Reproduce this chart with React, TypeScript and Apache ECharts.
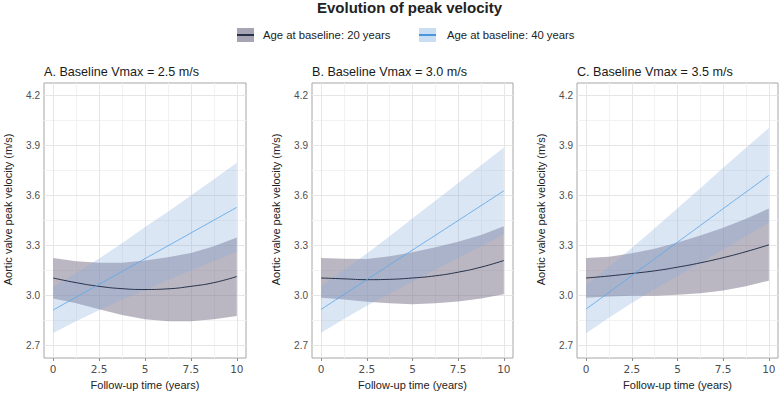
import React, { useEffect, useRef } from "react";
import * as echarts from "echarts";

// ---- data ----
const years = [0, 1.25, 2.5, 3.75, 5, 6.25, 7.5, 8.75, 10];
const xTicks = [0, 2.5, 5, 7.5, 10];
const xMinor = [1.25, 3.75, 6.25, 8.75];
const yTicks = [2.7, 3.0, 3.3, 3.6, 3.9, 4.2];
const yMinor = [2.85, 3.15, 3.45, 3.75, 4.05];

const chartTitle = "Evolution of peak velocity";
const panelTitles = [
  "A. Baseline Vmax = 2.5 m/s",
  "B. Baseline Vmax = 3.0 m/s",
  "C. Baseline Vmax = 3.5 m/s",
];
const legendLabels = ["Age at baseline: 20 years", "Age at baseline: 40 years"];
const xName = "Follow-up time (years)";
const yName = "Aortic valve peak velocity (m/s)";

// Panel A (baseline 2.5 m/s)
const a20Mean = [3.105, 3.077, 3.055, 3.041, 3.036, 3.040, 3.055, 3.077, 3.114];
const a20Upper = [3.225, 3.206, 3.196, 3.196, 3.210, 3.230, 3.255, 3.295, 3.348];
const a20Lower = [2.982, 2.953, 2.917, 2.883, 2.858, 2.846, 2.846, 2.858, 2.877];
const a40Mean = [2.913, 2.990, 3.067, 3.144, 3.221, 3.298, 3.375, 3.452, 3.529];
const a40Upper = [3.051, 3.135, 3.222, 3.314, 3.411, 3.503, 3.600, 3.697, 3.796];
const a40Lower = [2.775, 2.845, 2.912, 2.974, 3.031, 3.093, 3.150, 3.207, 3.262];

// Panel B (baseline 3.0 m/s)
const b20Mean = [3.105, 3.100, 3.095, 3.097, 3.105, 3.118, 3.140, 3.170, 3.210];
const b20Upper = [3.225, 3.221, 3.219, 3.235, 3.259, 3.289, 3.322, 3.363, 3.415];
const b20Lower = [2.986, 2.976, 2.962, 2.953, 2.948, 2.953, 2.964, 2.982, 3.008];
const b40Mean = [2.917, 3.006, 3.095, 3.184, 3.273, 3.361, 3.450, 3.539, 3.628];
const b40Upper = [3.057, 3.153, 3.252, 3.356, 3.463, 3.568, 3.675, 3.782, 3.888];
const b40Lower = [2.777, 2.859, 2.938, 3.012, 3.083, 3.154, 3.225, 3.296, 3.368];

// Panel C (baseline 3.5 m/s)
const c20Mean = [3.105, 3.117, 3.132, 3.148, 3.170, 3.196, 3.227, 3.263, 3.304];
const c20Upper = [3.225, 3.233, 3.253, 3.280, 3.318, 3.360, 3.407, 3.460, 3.522];
const c20Lower = [2.986, 2.994, 2.998, 2.998, 3.004, 3.014, 3.030, 3.055, 3.089];
const c40Mean = [2.919, 3.019, 3.120, 3.220, 3.320, 3.420, 3.521, 3.621, 3.721];
const c40Upper = [3.064, 3.172, 3.285, 3.403, 3.523, 3.644, 3.766, 3.886, 4.005];
const c40Lower = [2.774, 2.866, 2.955, 3.037, 3.117, 3.196, 3.276, 3.356, 3.437];

// ---- styling ----
const FONT = "Liberation Sans, Arial, sans-serif";
const GRAY_BAND = "rgba(118,112,134,0.5)";
const BLUE_BAND = "rgba(135,172,222,0.3)";
const GRAY_LINE = "#26324a";
const BLUE_LINE = "#62aae6";
const gridLefts = [44, 312, 577];
const gridWidths = [202, 201, 201];

const panels = [
  { m20: a20Mean, u20: a20Upper, l20: a20Lower, m40: a40Mean, u40: a40Upper, l40: a40Lower },
  { m20: b20Mean, u20: b20Upper, l20: b20Lower, m40: b40Mean, u40: b40Upper, l40: b40Lower },
  { m20: c20Mean, u20: c20Upper, l20: c20Lower, m40: c40Mean, u40: c40Upper, l40: c40Lower },
];

const pairs = (ys: number[]) => years.map((x, i) => [x, ys[i]]);

function bandSeries(i: number, lower: number[], upper: number[], fill: string) {
  return {
    type: "custom",
    coordinateSystem: "cartesian2d",
    xAxisIndex: i,
    yAxisIndex: i,
    silent: true,
    data: years.map((x, k) => [x, lower[k], upper[k]]),
    renderItem: (params: any, api: any) => {
      if (params.dataIndex !== 0) return null;
      const top = years.map((x, k) => api.coord([x, upper[k]]));
      const bottom = years.map((x, k) => api.coord([x, lower[k]])).reverse();
      return {
        type: "polygon",
        shape: { points: top.concat(bottom) },
        style: { fill, stroke: "none" },
      };
    },
  };
}

function buildOption() {
  const grid: any[] = [];
  const xAxis: any[] = [];
  const yAxis: any[] = [];
  const series: any[] = [];
  const titles: any[] = [
    {
      text: chartTitle,
      left: 317,
      top: 0,
      padding: 0,
      textStyle: { fontFamily: FONT, fontSize: 15, fontWeight: "bold", color: "#222" },
    },
  ];

  panels.forEach((p, i) => {
    grid.push({
      left: gridLefts[i],
      top: 83,
      width: gridWidths[i],
      height: 277,
      show: true,
      borderColor: "#a6a6a6",
      borderWidth: 1,
      backgroundColor: "transparent",
    });
    titles.push({
      text: panelTitles[i],
      left: gridLefts[i],
      top: 65,
      padding: 0,
      textStyle: { fontFamily: FONT, fontSize: 12.6, fontWeight: "normal", color: "#1a1a1a" },
    });
    xAxis.push({
      type: "value",
      gridIndex: i,
      min: -0.5,
      max: 10.5,
      name: xName,
      nameLocation: "middle",
      nameGap: 21,
      nameTextStyle: { fontFamily: FONT, fontSize: 11, color: "#222" },
      axisLine: { show: false },
      splitLine: { show: false },
      axisTick: { show: true, length: 3, customValues: xTicks, lineStyle: { color: "#8c8c8c" } },
      axisLabel: {
        customValues: xTicks,
        margin: 5,
        fontFamily: "DejaVu Sans, sans-serif",
        fontSize: 10.5,
        color: "#4d4d4d",
        formatter: (v: number) => String(v),
      },
    });
    yAxis.push({
      type: "value",
      gridIndex: i,
      min: 2.625,
      max: 4.275,
      name: yName,
      nameLocation: "middle",
      nameGap: 31,
      nameTextStyle: { fontFamily: FONT, fontSize: 11, color: "#222", padding: [0, 0, 0, 22] },
      axisLine: { show: false },
      splitLine: { show: false },
      axisTick: { show: true, length: 3, customValues: yTicks, lineStyle: { color: "#8c8c8c" } },
      axisLabel: {
        customValues: yTicks,
        margin: 4,
        fontFamily: FONT,
        fontSize: 10,
        color: "#4d4d4d",
        formatter: (v: number) => v.toFixed(1),
      },
    });

    const gridLines = [
      ...xMinor.map((v) => ({ xAxis: v, lineStyle: { color: "#f2f2f2", width: 1, type: "solid" } })),
      ...yMinor.map((v) => ({ yAxis: v, lineStyle: { color: "#f2f2f2", width: 1, type: "solid" } })),
      ...xTicks.map((v) => ({ xAxis: v, lineStyle: { color: "#e6e6e6", width: 1, type: "solid" } })),
      ...yTicks.map((v) => ({ yAxis: v, lineStyle: { color: "#e6e6e6", width: 1, type: "solid" } })),
    ];

    series.push(bandSeries(i, p.l20, p.u20, GRAY_BAND));
    series.push(bandSeries(i, p.l40, p.u40, BLUE_BAND));
    series.push({
      name: legendLabels[0],
      type: "line",
      xAxisIndex: i,
      yAxisIndex: i,
      data: pairs(p.m20),
      smooth: true,
      symbol: "none",
      lineStyle: { color: GRAY_LINE, width: 1 },
      markLine: {
        silent: true,
        z: 1,
        symbol: ["none", "none"],
        label: { show: false },
        animation: false,
        data: gridLines,
      },
    });
    series.push({
      name: legendLabels[1],
      type: "line",
      xAxisIndex: i,
      yAxisIndex: i,
      data: pairs(p.m40),
      smooth: true,
      symbol: "none",
      lineStyle: { color: BLUE_LINE, width: 0.9 },
    });
  });

  const graphic = [
    { type: "rect", shape: { x: 237, y: 28, width: 17, height: 14 }, style: { fill: "#a7a5b3" } },
    { type: "line", shape: { x1: 237, y1: 35, x2: 254, y2: 35 }, style: { stroke: GRAY_LINE, lineWidth: 2 } },
    {
      type: "text",
      x: 263,
      y: 35,
      style: { text: legendLabels[0], fontFamily: FONT, fontSize: 11.3, fill: "#222", verticalAlign: "middle" },
    },
    { type: "rect", shape: { x: 419, y: 28, width: 17, height: 14 }, style: { fill: "#c9ddf3" } },
    { type: "line", shape: { x1: 419, y1: 35, x2: 436, y2: 35 }, style: { stroke: "#4a96dd", lineWidth: 2 } },
    {
      type: "text",
      x: 447,
      y: 35,
      style: { text: legendLabels[1], fontFamily: FONT, fontSize: 11.3, fill: "#222", verticalAlign: "middle" },
    },
  ];

  return {
    animation: false,
    backgroundColor: "#ffffff",
    title: titles,
    grid,
    xAxis,
    yAxis,
    series,
    graphic,
  };
}

export default function App() {
  const ref = useRef<HTMLDivElement>(null);
  useEffect(() => {
    if (!ref.current) return;
    const chart = echarts.init(ref.current, null, { renderer: "svg" });
    chart.setOption(buildOption() as any);
    return () => chart.dispose();
  }, []);
  return (
    <div
      ref={ref}
      style={{ position: "fixed", left: 0, top: 0, width: 779, height: 395 }}
    />
  );
}
